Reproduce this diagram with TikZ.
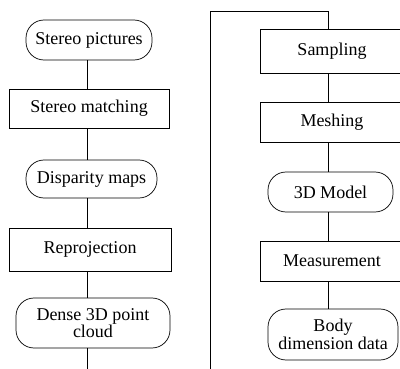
\documentclass[tikz,border=0pt]{standalone}
\usepackage{fontspec}
\setmainfont{Liberation Serif}

\begin{document}
\begin{tikzpicture}
  [x=1pt,y=-1pt,line width=.7pt,
   every node/.style={draw,inner sep=0pt,align=center,font=\fontsize{18}{17.5}\selectfont},
   proc/.style={rectangle},
   term/.style={rectangle,rounded corners=18pt}]
  \useasboundingbox (0,0) rectangle (400,369);

  \node[term,minimum width=126pt,minimum height=40pt] (n1) at (89,40) {Stereo pictures};
  \node[proc,minimum width=160pt,minimum height=39pt] (n2) at (89,108.5) {Stereo matching};
  \node[term,minimum width=131pt,minimum height=38pt] (n3) at (91.5,179) {Disparity maps};
  \node[proc,minimum width=162pt,minimum height=43pt] (n4) at (90,249.5) {Reprojection};
  \node[term,minimum width=154pt,minimum height=50pt] (n5) at (93,323) {Dense 3D point\\cloud};

  \node[proc,minimum width=144pt,minimum height=44pt] (n6) at (332,51) {Sampling};
  \node[proc,minimum width=144pt,minimum height=40pt] (n7) at (332,122) {Meshing};
  \node[term,minimum width=125pt,minimum height=40pt] (n8) at (330.5,192) {3D Model};
  \node[proc,minimum width=144pt,minimum height=40pt] (n9) at (332,261) {Measurement};
  \node[term,minimum width=130pt,minimum height=51pt] (n10) at (333,334.5) {Body\\dimension data};

  \coordinate (lc) at (87.5,0);
  \coordinate (rc) at (328,11);
  \coordinate (e1) at (87.5,369);
  \coordinate (e2) at (210,369);

  \draw (n1.south -| lc) to (n2.north -| lc);
  \draw (n2.south -| lc) to (n3.north -| lc);
  \draw (n3.south -| lc) to (n4.north -| lc);
  \draw (n4.south -| lc) to (n5.north -| lc);
  \draw (n5.south -| lc) to (e1);

  \draw (e2) |- (rc) -- (n6.north -| rc);
  \draw (n6.south -| rc) to (n7.north -| rc);
  \draw (n7.south -| rc) to (n8.north -| rc);
  \draw (n8.south -| rc) to (n9.north -| rc);
  \draw (n9.south -| rc) to (n10.north -| rc);
\end{tikzpicture}
\end{document}
